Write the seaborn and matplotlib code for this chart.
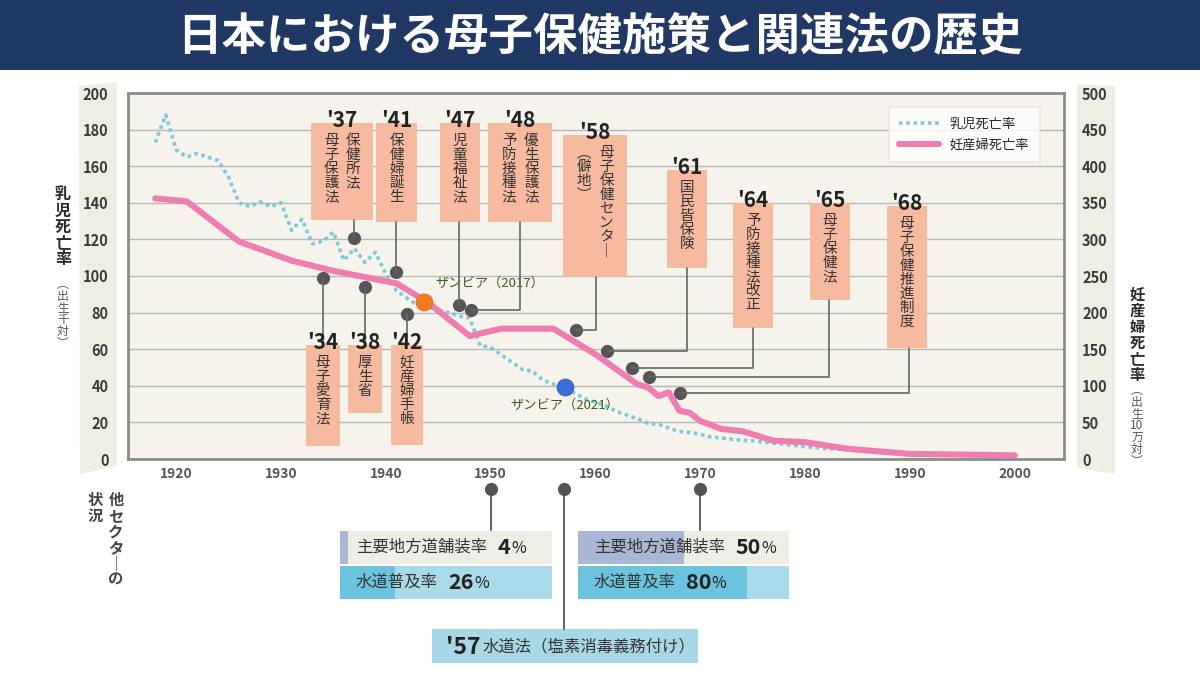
import numpy as np
import pandas as pd
import seaborn as sns
import matplotlib.pyplot as plt
from matplotlib.patches import Rectangle, Polygon
from matplotlib.lines import Line2D
from matplotlib import transforms

# infant mortality (per 1,000 births), left axis
imr_years = [1918, 1919, 1920, 1921, 1922, 1924, 1925, 1926, 1927, 1928, 1929, 1930,
             1931, 1932, 1933, 1934, 1935, 1936, 1937, 1938, 1939, 1940, 1941, 1942,
             1943, 1944, 1946, 1947, 1948, 1949, 1950, 1951, 1952, 1953, 1954, 1955,
             1956, 1957, 1958, 1959, 1960, 1961, 1962, 1963, 1964, 1965, 1966, 1967,
             1968, 1969, 1970, 1971, 1972, 1974, 1975, 1978, 1981, 1984, 1987, 1990,
             1994, 2000]
imr_vals = [173, 188, 169, 165, 167, 163, 154, 140, 138, 140.5, 138, 140,
            125, 131, 117.5, 119, 124, 108.5, 115, 107.5, 113, 101, 92, 88,
            84, 83, 80, 78, 77, 62, 61, 57, 53, 49, 48, 43,
            41, 39.5, 36, 33, 31, 29, 26, 24, 22, 19.5, 19, 17,
            15, 14.5, 13.5, 12, 11.5, 10.2, 9.9, 8, 6.2, 5, 3.5, 3,
            2.6, 2]

# maternal mortality (per 100,000 births), right axis
mmr_years = [1918, 1921, 1926, 1931, 1935, 1941, 1944, 1948, 1951, 1956, 1960, 1964,
             1965, 1966, 1967, 1968, 1969, 1970, 1972, 1974, 1977, 1980, 1984, 1990, 2000]
mmr_vals = [356, 352, 297, 271, 257, 240, 214, 168, 178, 178, 143, 102,
            98, 86, 91, 66, 63, 52, 41, 38, 25, 23, 14, 7, 5]

# Zambia reference points
zambia_mmr = (1943.6, 214)    # 2017, right axis
zambia_imr = (1957.1, 39.5)   # 2021, left axis

# policy events above the curves
top_labels = ["'37", "'41", "'47", "'48", "'58", "'61", "'64", "'65", "'68"]
top_texts = [["保健所法", "母子保護法"], ["保健婦誕生"], ["児童福祉法"],
             ["優生保護法", "予防接種法"], ["母子保健センター", "（僻地）"],
             ["国民皆保険"], ["予防接種法改正"], ["母子保健法"], ["母子保健推進制度"]]
top_dot_x = [1937, 1941, 1947, 1948.1, 1958.1, 1961.1, 1963.5, 1965.1, 1968.1]
top_dot_y = [120.5, 102, 84, 81.5, 70.5, 59, 49.5, 45, 36]

# policy events below the curves
bot_labels = ["'34", "'38", "'42"]
bot_texts = [["母子愛育法"], ["厚生省"], ["妊産婦手帳"]]
bot_dot_x = [1934, 1938, 1942]
bot_dot_y = [99, 94, 79]

# other sectors
sector_items = ['主要地方道舗装率', '水道普及率']
sector_years = [1950, 1970]
sector_vals = [[4, 26], [50, 80]]
water_law_year = 1957
water_law_label = "'57"
water_law_text = '水道法（塩素消毒義務付け）'

title = '日本における母子保健施策と関連法の歴史'

# layout (pixels on the 1200x675 canvas)
top_boxes = [(311, 373, 123, 220), (376, 417, 123, 222), (440, 480, 123, 222),
             (488, 552, 123, 222), (563, 627, 135, 277), (667, 707, 170, 268),
             (733, 773, 203, 328), (810, 850, 203, 300), (887, 927, 206, 348)]
top_line_x = [None, None, None, 520, 596, 687, 753, 829, 909]
bot_boxes = [(306, 340, 345, 446), (348, 382, 345, 413), (391, 423, 345, 445)]
sector_boxes = [(340, 552), (578, 789)]

PEACH = '#F6BB9E'
NAVY = '#1F3864'
PINK = '#EE7DB0'
CYAN = '#7FC8DA'
DARK = '#333333'

sns.set_theme(style='white')
plt.rcParams['font.family'] = ['Noto Sans CJK JP', 'DejaVu Sans']

fig = plt.figure(figsize=(12, 6.75), dpi=100)
fig.patch.set_facecolor('white')

# paper strips behind tick labels
pxt = transforms.Affine2D().scale(1 / 1200, -1 / 675).translate(0, 1) + fig.transFigure
for poly in ([(79, 86), (117, 82), (117, 466), (80, 474)],
             [(1077, 84), (1115, 86), (1115, 474), (1077, 468)]):
    fig.add_artist(Polygon(poly, closed=True, transform=pxt, facecolor='#EFEEE5',
                           edgecolor='none', zorder=-1))

ax = fig.add_axes([128 / 1200, 1 - 459 / 675, 936 / 1200, 366 / 675])
ax.set_facecolor('#F5F3EC')
ax.set_xlim(1915.4, 2004.7)
ax.set_ylim(0, 200)
ax.set_yticks(range(0, 201, 20))
ax.set_xticks(range(1920, 2001, 10))
ax.grid(axis='y', color='#b8b8b8', lw=1)
ax.grid(axis='x', visible=False)
for s in ax.spines.values():
    s.set_color('#8c8c8c')
    s.set_linewidth(2)
ax.tick_params(axis='y', length=0, pad=14, labelsize=10.5, labelcolor='#3a3a3a')
ax.tick_params(axis='x', length=0, pad=6, labelsize=10, labelcolor='#555555')
for lab in ax.get_yticklabels() + ax.get_xticklabels():
    lab.set_fontweight('bold')

sns.lineplot(x=imr_years, y=imr_vals, ax=ax, color=CYAN, lw=2.6,
             linestyle=(0, (1, 1)), zorder=3)
ax.set_xlabel('')
ax.set_ylabel('')

ax2 = ax.twinx()
ax2.set_ylim(0, 500)
ax2.set_yticks(range(0, 501, 50))
ax2.grid(False)
for s in ax2.spines.values():
    s.set_visible(False)
ax2.tick_params(axis='y', length=0, pad=13, labelsize=10.5, labelcolor='#3a3a3a')
for lab in ax2.get_yticklabels():
    lab.set_fontweight('bold')
sns.lineplot(x=mmr_years, y=mmr_vals, ax=ax2, color=PINK, lw=4.4, zorder=3)
ax2.set_xlabel('')
ax2.set_ylabel('')

# event dots
ax.scatter(top_dot_x + bot_dot_x, top_dot_y + bot_dot_y, s=90, color='#555555',
           zorder=5, clip_on=False, linewidths=0)

# Zambia markers
ax2.scatter([zambia_mmr[0]], [zambia_mmr[1]], s=150, color='#F07B22', zorder=6,
            edgecolor='#E86A10', linewidths=0.5)
ax.scatter([zambia_imr[0]], [zambia_imr[1]], s=150, color='#3A6CD4', zorder=6,
           edgecolor='#2A5AC0', linewidths=0.5)
ax2.annotate('ザンビア（2017）', zambia_mmr, xytext=(8.5, 13.5), textcoords='offset points',
             fontsize=9.5, color='#3E5B1F', ha='left', va='center')
ax.annotate('ザンビア（2021）', zambia_imr, xytext=(-39.5, -13.5), textcoords='offset points',
            fontsize=9.5, color='#3E5B1F', ha='left', va='center')

leg_handles = [Line2D([], [], color=CYAN, lw=2.6, linestyle=(0, (1, 1))),
               Line2D([], [], color=PINK, lw=4.4)]
leg = ax2.legend(leg_handles, ['乳児死亡率', '妊産婦死亡率'], loc='upper right',
                 bbox_to_anchor=(0.974, 0.962), borderaxespad=0, fontsize=9.5,
                 frameon=True, fancybox=False, handlelength=3.0, borderpad=0.8,
                 labelspacing=0.6)
leg.get_frame().set_facecolor('white')
leg.get_frame().set_edgecolor('#F1DCE2')
leg.get_frame().set_linewidth(1.2)

# overlay in canvas pixels
ov = fig.add_axes([0, 0, 1, 1], zorder=5)
ov.set_xlim(0, 1200)
ov.set_ylim(675, 0)
ov.axis('off')

VMAP = {'ー': '｜', '（': '︵', '）': '︶'}


def vtext(x, y, s, size, weight='normal', color=DARK, tokens=None, ls=1.0):
    parts = tokens if tokens is not None else [VMAP.get(c, c) for c in s]
    ov.text(x, y, '\n'.join(parts), ha='center', va='top', fontsize=size,
            fontweight=weight, color=color, linespacing=ls, multialignment='center')


def to_px(xd, yd):
    dx, dy = ax.transData.transform((xd, yd))
    return dx, 675 - dy


# title bar
ov.add_patch(Rectangle((0, 0), 1200, 70, facecolor=NAVY, edgecolor='none'))
ov.text(600, 36, title, ha='center', va='center', fontsize=32, fontweight='bold',
        color='white')

# axis titles
vtext(63, 187, '乳児死亡率', 11.5, 'bold', '#2b2b2b')
vtext(63, 278, '（出生千対）', 8.5, 'normal', '#555555', ls=0.88)
vtext(1137, 287, '妊産婦死亡率', 11, 'bold', '#2b2b2b')
vtext(1137, 384, '', 8.5, 'normal', '#555555', ls=0.88,
      tokens=['︵', '出', '生', '10', '万', '対', '︶'])

# top event boxes
for lab, cols, (l, r, t, b), lx, dx, dy in zip(top_labels, top_texts, top_boxes,
                                                  top_line_x, top_dot_x, top_dot_y):
    ov.add_patch(Rectangle((l, t), r - l, b - t, facecolor=PEACH, edgecolor='none'))
    ov.text((l + r) / 2, t + 4, lab, ha='center', va='baseline', fontsize=15,
            fontweight='bold', color='#222222')
    if len(cols) == 1:
        vtext((l + r) / 2, t + 11, cols[0], 10.5)
    else:
        vtext(l + (r - l) * 0.68, t + 11, cols[0], 10.5)
        vtext(l + (r - l) * 0.33, t + 11, cols[1], 10.5)
    px, py = to_px(dx, dy)
    x0 = px if lx is None else lx
    ov.plot([x0, x0, px], [b, py, py], color='#666666', lw=1.2, zorder=1)

# bottom event boxes
for lab, cols, (l, r, t, b), dx, dy in zip(bot_labels, bot_texts, bot_boxes,
                                           bot_dot_x, bot_dot_y):
    ov.add_patch(Rectangle((l, t), r - l, b - t, facecolor=PEACH, edgecolor='none'))
    ov.text((l + r) / 2, t + 4, lab, ha='center', va='baseline', fontsize=15,
            fontweight='bold', color='#222222')
    vtext((l + r) / 2, t + 11, cols[0], 10.5)
    px, py = to_px(dx, dy)
    ov.plot([px, px], [py, t], color='#666666', lw=1.2, zorder=1)

# other sectors
vtext(116, 492, '他セクターの', 11, 'bold', '#444444')
vtext(95, 492, '状況', 11, 'bold', '#444444')

blend = transforms.blended_transform_factory(ax.transData, ov.transData)
for yr, y_end in zip(sector_years + [water_law_year], [530, 530, 629]):
    ov.plot([yr, yr], [489, y_end], color='#666666', lw=1.5, transform=blend,
            clip_on=False)
    ov.scatter([yr], [489], s=90, color='#555555', transform=blend, clip_on=False,
               zorder=4, linewidths=0)

bg_cols = ['#EFEEE6', '#A9DAEA']
fg_cols = ['#A9B6D6', '#6CC3DD']
for (l, r), vals in zip(sector_boxes, sector_vals):
    bax = fig.add_axes([l / 1200, 1 - 600 / 675, (r - l) / 1200, 70 / 675], zorder=6)
    bax.barh([0, 1], [100, 100], height=0.92, color=bg_cols, linewidth=0)
    bax.barh([0, 1], vals, height=0.92, color=fg_cols, linewidth=0)
    bax.set_xlim(0, 100)
    bax.set_ylim(1.5, -0.5)
    bax.axis('off')
    tr = bax.get_yaxis_transform()
    for i, (item, v) in enumerate(zip(sector_items, vals)):
        bax.text(0.075, i, item, transform=tr, ha='left', va='center', fontsize=11.8,
                 color=DARK)
        nx = 0.745 if i == 0 else 0.51
        num = bax.text(nx, i, str(v), transform=tr, ha='left', va='center',
                       fontsize=15.5, fontweight='bold', color='#222222')
        bax.annotate('%', xy=(1, 0.45), xycoords=num, xytext=(0.5, 0),
                     textcoords='offset points', ha='left', va='center', fontsize=11.5,
                     color='#222222')

ov.add_patch(Rectangle((432, 629), 266, 34, facecolor='#A8D8E8', edgecolor='none'))
ov.text(446, 647, water_law_label, ha='left', va='center', fontsize=16.5,
        fontweight='bold', color='#222222')
ov.text(483, 647, water_law_text, ha='left', va='center', fontsize=11.8, color=DARK)

fig.savefig('out.png', dpi=100)
